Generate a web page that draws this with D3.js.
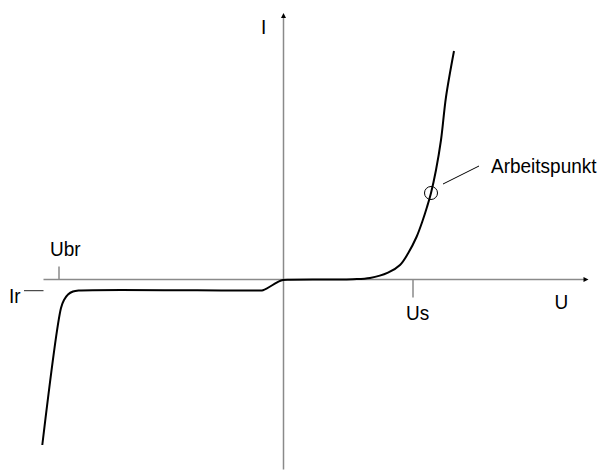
<!DOCTYPE html>
<html>
<head>
<meta charset="utf-8">
<script src="https://cdn.jsdelivr.net/npm/d3@7"></script>
<style>
  html, body { margin: 0; padding: 0; background: #fff; }
  svg { display: block; }
  text { font-family: "Liberation Sans", Arial, sans-serif; font-size: 19px; fill: #000; }
</style>
</head>
<body>
<svg id="chart" width="603" height="474"></svg>
<script>
// Diode characteristic I(U), arbitrary units
const curveU = [-24.12, -22.25, -21.95, -21.55, -21.05, -20.45, -2.55, -2.05, -0.45, -0.05, 0.65, 4.65, 6.95, 8.65, 10.45, 11.65, 12.45, 13.3, 13.9, 14.35, 14.75, 15.25, 15.75, 16.25, 17.05];
const curveI = [-16.55, -2.85, -2.05, -1.5, -1.2, -1.1, -1.1, -1.07, -0.18, -0.05, -0.02, 0, 0.03, 0.15, 0.68, 1.45, 2.6, 4.25, 5.85, 7.25, 8.65, 10.95, 13.95, 18.25, 22.85];

const uBr = -22.45;      // breakdown voltage
const uS = 12.95;        // threshold voltage
const iR = -1.1;         // reverse current
const workPoint = { u: 14.75, i: 8.65, label: "Arbeitspunkt" };

const axisLabels = { x: "U", y: "I" };
const tickLabels = { ubr: "Ubr", us: "Us", ir: "Ir" };

const svg = d3.select("#chart");
const x = d3.scaleLinear().domain([-24, 30.5]).range([43.5, 588.5]);
const y = d3.scaleLinear().domain([-19, 26.65]).range([469.5, 13]);

const axisColor = "#8a8a8a";

// x axis
svg.append("line")
  .attr("x1", x(-24)).attr("x2", x(30.2))
  .attr("y1", y(0)).attr("y2", y(0))
  .attr("stroke", axisColor).attr("stroke-width", 1.5);
svg.append("path")
  .attr("d", `M${x(30.5)},${y(0)} L${x(30.5) - 5},${y(0) - 2.5} L${x(30.5) - 5},${y(0) + 2.5} Z`)
  .attr("fill", "#000");

// y axis
svg.append("line")
  .attr("x1", x(0)).attr("x2", x(0))
  .attr("y1", y(-19)).attr("y2", y(26.3))
  .attr("stroke", axisColor).attr("stroke-width", 1.5);
svg.append("path")
  .attr("d", `M${x(0)},${y(26.65)} L${x(0) - 2.5},${y(26.65) + 5} L${x(0) + 2.5},${y(26.65) + 5} Z`)
  .attr("fill", "#000");

// ticks
svg.append("line")
  .attr("x1", x(uBr)).attr("x2", x(uBr))
  .attr("y1", y(0)).attr("y2", y(0) - 13)
  .attr("stroke", axisColor).attr("stroke-width", 1.5);
svg.append("line")
  .attr("x1", x(uS)).attr("x2", x(uS))
  .attr("y1", y(0)).attr("y2", y(0) + 18)
  .attr("stroke", axisColor).attr("stroke-width", 1.5);

// Ir marker dash
svg.append("line")
  .attr("x1", 24).attr("x2", x(-24))
  .attr("y1", y(iR) + 0.2).attr("y2", y(iR) + 0.2)
  .attr("stroke", "#222").attr("stroke-width", 1);

// curve
const pts = curveU.map((u, k) => [u, curveI[k]]);
const line = d3.line()
  .x(d => x(d[0])).y(d => y(d[1]))
  .curve(d3.curveCatmullRom.alpha(0.5));
svg.append("path")
  .attr("d", line(pts))
  .attr("fill", "none").attr("stroke", "#000").attr("stroke-width", 2)
  .attr("stroke-linejoin", "round");

// working point
svg.append("circle")
  .attr("cx", x(workPoint.u)).attr("cy", y(workPoint.i)).attr("r", 6.5)
  .attr("fill", "none").attr("stroke", "#000").attr("stroke-width", 1);
svg.append("line")
  .attr("x1", x(workPoint.u) + 12).attr("y1", y(workPoint.i) - 9)
  .attr("x2", x(workPoint.u) + 48).attr("y2", y(workPoint.i) - 27)
  .attr("stroke", "#000").attr("stroke-width", 1);

function label(txt, tx, ty) {
  svg.append("text")
    .attr("transform", `translate(${tx},${ty}) scale(1,1.08)`)
    .text(txt);
}
label(workPoint.label, x(workPoint.u) + 60, y(workPoint.i) - 20);
label(axisLabels.y, x(0) - 22.5, 33.5);
label(axisLabels.x, 554.5, y(0) + 29);
label(tickLabels.ubr, x(uBr) - 9, y(0) - 23.5);
label(tickLabels.us, x(uS) - 7, y(0) + 40.5);
label(tickLabels.ir, 9, 303.3);
</script>
</body>
</html>
